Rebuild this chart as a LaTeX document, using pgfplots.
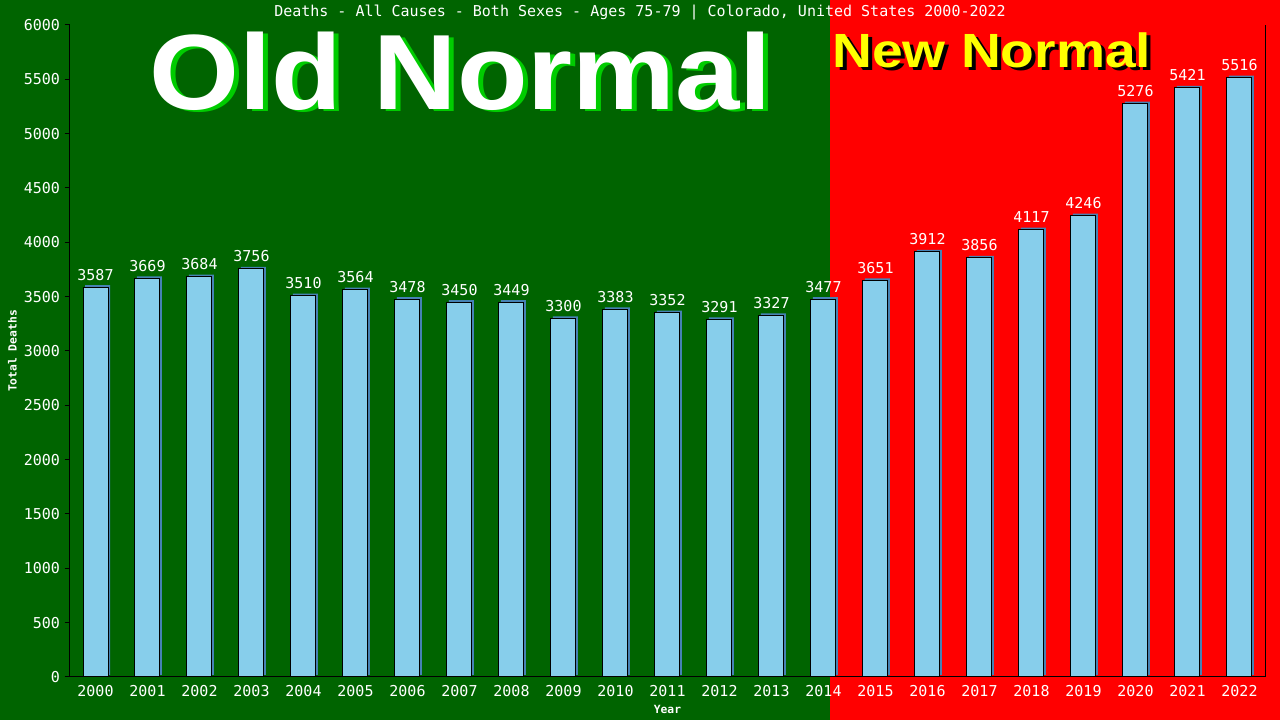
\documentclass[border=0pt]{standalone}
\usepackage{fontspec}
\usepackage{pgfplots}
\pgfplotsset{compat=1.18}
\setmainfont{DejaVu Sans Mono}
\newfontfamily\bigsans{Liberation Sans}
\definecolor{bggreen}{RGB}{0,100,0}
\definecolor{bgred}{RGB}{255,0,0}
\definecolor{barblue}{RGB}{135,206,235}
\definecolor{barshadow}{RGB}{70,130,180}
\definecolor{oldshadow}{RGB}{0,204,0}
\definecolor{newyellow}{RGB}{255,255,0}
\begin{document}
\begin{tikzpicture}[x=1pt,y=1pt]
\useasboundingbox (0,0) rectangle (1280,720);
% background halves
\fill[bggreen] (0,0) rectangle (830,720);
\fill[bgred] (830,0) rectangle (1280,720);
% big captions
\node[anchor=base west, inner sep=0, xscale=1.08, text=oldshadow, font=\bigsans\bfseries\fontsize{107}{110}\selectfont] at (154,608) {Old Normal};
\node[anchor=base west, inner sep=0, xscale=1.08, text=white, font=\bigsans\bfseries\fontsize{107}{110}\selectfont] at (149,610) {Old Normal};
\node[anchor=base west, inner sep=0, xscale=1.15, text=black, font=\bigsans\bfseries\fontsize{48}{50}\selectfont] at (836,649) {New Normal};
\node[anchor=base west, inner sep=0, xscale=1.15, text=newyellow, font=\bigsans\bfseries\fontsize{48}{50}\selectfont] at (832,652) {New Normal};
% title
\node[text=white, font=\fontsize{15}{17}\selectfont] at (640,707) {Deaths - All Causes - Both Sexes - Ages 75-79 | Colorado, United States 2000-2022};
\begin{axis}[
    at={(69.5pt,43pt)}, anchor=south west,
    scale only axis, width=1196pt, height=652pt,
    xmin=-0.5, xmax=22.5, ymin=0, ymax=6000,
    axis x line*=bottom, axis y line*=left,
    axis line style={black, line width=1pt, -},
    xtick=data,
    xticklabels={2000,2001,2002,2003,2004,2005,2006,2007,2008,2009,2010,2011,2012,2013,2014,2015,2016,2017,2018,2019,2020,2021,2022},
    major x tick style={draw=none},
    ytick={0,500,...,6000},
    tick align=outside, major tick length=5pt,
    major y tick style={black, line width=1pt},
    /pgf/number format/1000 sep={},
    /pgf/number format/assume math mode=true,
    tick label style={text=white, font=\fontsize{15}{17}\selectfont},
    yticklabel style={xshift=-1pt},
    xlabel={Year}, ylabel={Total Deaths},
    xlabel style={at={(axis description cs:0.5,0)}, anchor=center, yshift=-32pt, text=white, font=\bfseries\fontsize{11.3}{13}\selectfont},
    ylabel style={at={(axis description cs:0,0.5)}, anchor=center, yshift=57pt, text=white, font=\bfseries\fontsize{11.3}{13}\selectfont},
    ybar, bar width=25pt,
    nodes near coords,
    nodes near coords style={text=white, font=\fontsize{15}{17}\selectfont, yshift=3pt},
    clip=false,
]
\addplot[fill=barblue, draw=black, line width=1pt,
    preaction={fill=barshadow, draw=none, transform canvas={xshift=2pt, yshift=2pt}}]
coordinates {(0,3587)(1,3669)(2,3684)(3,3756)(4,3510)(5,3564)(6,3478)(7,3450)(8,3449)(9,3300)(10,3383)(11,3352)(12,3291)(13,3327)(14,3477)(15,3651)(16,3912)(17,3856)(18,4117)(19,4246)(20,5276)(21,5421)(22,5516)};
\draw[black, line width=1pt] (rel axis cs:1,0) -- (rel axis cs:1,1);
\end{axis}
\end{tikzpicture}
\end{document}
